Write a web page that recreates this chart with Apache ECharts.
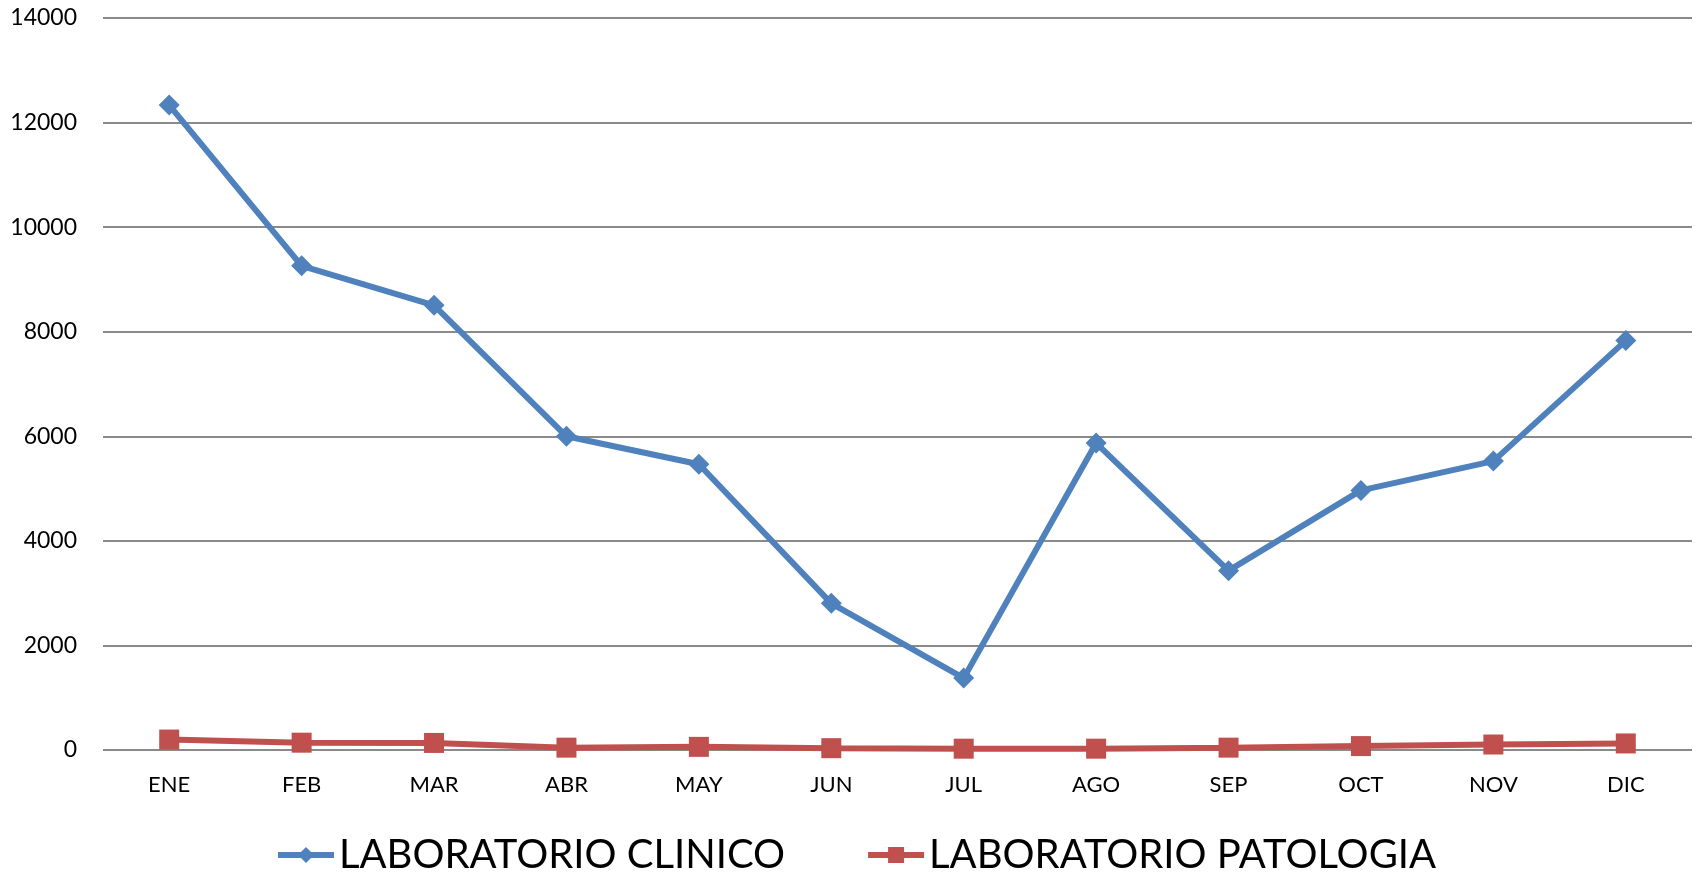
<!DOCTYPE html>
<html>
<head>
<meta charset="utf-8">
<script src="https://cdn.jsdelivr.net/npm/echarts@6/dist/echarts.min.js"></script>
<style>
html,body{margin:0;padding:0;background:#fff;}
#chart{width:1700px;height:872px;}
</style>
</head>
<body>
<div id="chart"></div>
<script>
const categories = ['ENE','FEB','MAR','ABR','MAY','JUN','JUL','AGO','SEP','OCT','NOV','DIC'];
const clinico = [12335, 9260, 8505, 6000, 5465, 2805, 1375, 5870, 3430, 4965, 5525, 7830];
const patologia = [200, 140, 135, 45, 60, 35, 25, 25, 45, 75, 105, 125];
const seriesNames = ['LABORATORIO CLINICO', 'LABORATORIO PATOLOGIA'];
const yTicks = {min: 0, max: 14000, interval: 2000};

const chart = echarts.init(document.getElementById('chart'));
chart.setOption({
  backgroundColor: '#ffffff',
  animation: false,
  textStyle: {fontFamily: 'Lato'},
  grid: {left: 103, right: 8, top: 18, bottom: 122, containLabel: false},
  legend: {
    data: seriesNames,
    left: 270,
    top: 830,
    itemWidth: 56,
    itemHeight: 20,
    itemGap: 80,
    lineStyle: {width: 6},
    textStyle: {fontSize: 40, color: '#000', fontFamily: 'Lato'}
  },
  xAxis: {
    type: 'category',
    data: categories,
    boundaryGap: true,
    axisLine: {show: false},
    axisTick: {show: false},
    axisLabel: {color: '#000', fontSize: 22, margin: 24, fontFamily: 'Lato'}
  },
  yAxis: {
    type: 'value',
    min: yTicks.min, max: yTicks.max, interval: yTicks.interval,
    axisLine: {show: false},
    axisTick: {show: false},
    axisLabel: {color: '#000', fontSize: 23, margin: 26, fontFamily: 'Lato',
      formatter: function (v) { return String(v); }},
    splitLine: {lineStyle: {color: '#8a8a8a', width: 2}}
  },
  series: [
    {
      name: seriesNames[0], type: 'line', data: clinico,
      symbol: 'diamond', symbolSize: 21,
      lineStyle: {color: '#4F81BD', width: 6},
      itemStyle: {color: '#4F81BD'}
    },
    {
      name: seriesNames[1], type: 'line', data: patologia,
      symbol: 'rect', symbolSize: 20,
      lineStyle: {color: '#C0504D', width: 6},
      itemStyle: {color: '#C0504D'}
    }
  ]
});
</script>
</body>
</html>
